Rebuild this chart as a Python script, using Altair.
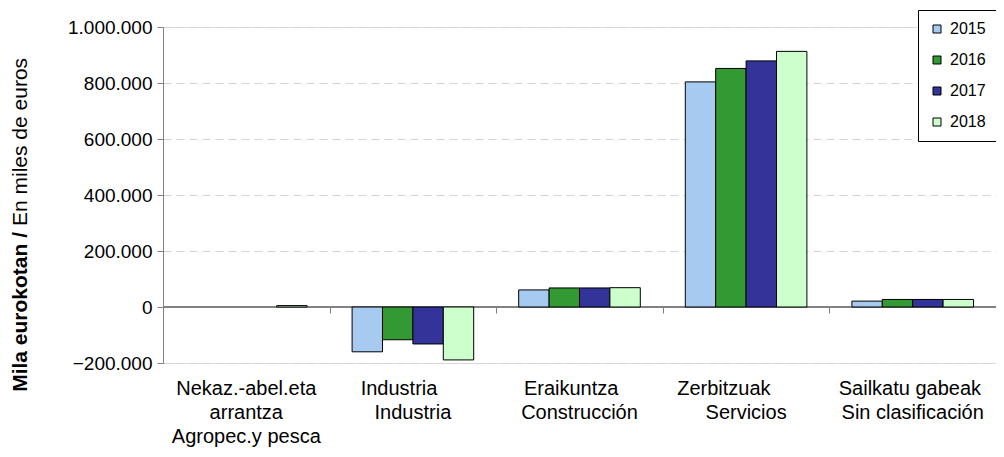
import altair as alt
import pandas as pd

NB = "\u00a0"
ZW = "\u200b"
categories = [
    "Nekaz.-abel.eta|arrantza|Agropec.y pesca",
    "Industria" + NB * 5 + ZW + "|Industria",
    "Eraikuntza" + NB * 3 + ZW + "|Construcción",
    "Zerbitzuak" + NB * 8 + ZW + "|Servicios",
    "Sailkatu gabeak" + NB + ZW + "|Sin clasificación",
]
years = ["2015", "2016", "2017", "2018"]
colors = ["#A6CAF0", "#339933", "#333399", "#CCFFCC"]

v2015 = [None, -160000, 61000, 804000, 21000]
v2016 = [None, -117000, 68000, 852000, 27000]
v2017 = [None, -132000, 68000, 879000, 27000]
v2018 = [5000, -189000, 69000, 913000, 27000]
y_ticks = [-200000, 0, 200000, 400000, 600000, 800000, 1000000]

series = {"2015": v2015, "2016": v2016, "2017": v2017, "2018": v2018}
rows = []
for y in years:
    for c, v in zip(categories, series[y]):
        if v is not None:
            rows.append({"cat": c, "year": y, "value": v})
df = pd.DataFrame(rows)
cat_df = pd.DataFrame({"cat": categories})

FONT = "Liberation Sans"
W, H = 833, 336
PAD_L, PAD_T = 155, 19

yscale = alt.Scale(domain=[-200000, 1000000], nice=False, zero=False)
xscale = alt.Scale(domain=categories, paddingInner=0, paddingOuter=0)

bars = alt.Chart(df).mark_bar(stroke="black", strokeWidth=1).encode(
    x=alt.X("cat:N", sort=categories, scale=xscale, title=None,
            axis=alt.Axis(orient="bottom", domain=False, ticks=False, labelAngle=0,
                          labelExpr="split(datum.label, '|')", labelFont=FONT,
                          labelFontSize=20, labelLineHeight=24, labelPadding=15,
                          labelColor="black", labelBaseline="top", labelLimit=400)),
    xOffset=alt.XOffset("year:N", sort=years,
                        scale=alt.Scale(paddingOuter=0.74, paddingInner=0)),
    y=alt.Y("value:Q", scale=yscale, title=None,
            axis=alt.Axis(values=y_ticks, grid=True, gridColor="#d4d4d4",
                          gridDash=[8, 5], domainColor="#808080", tickColor="#808080",
                          tickSize=6, labelPadding=5, labelFont=FONT, labelFontSize=19,
                          labelColor="black",
                          labelExpr="replace(format(datum.value, ','), regexp(',', 'g'), '.')")),
    color=alt.Color("year:N", sort=years, scale=alt.Scale(domain=years, range=colors),
                    legend=alt.Legend(title=None, orient="none", legendX=755, legendY=-17,
                                      symbolType="square", symbolSize=64,
                                      symbolStrokeColor="black", symbolStrokeWidth=1,
                                      labelFont=FONT, labelFontSize=16, labelColor="black",
                                      labelOffset=5, rowPadding=15, padding=11,
                                      strokeColor="black", fillColor="white",
                                      cornerRadius=0)),
)

zero = alt.Chart(cat_df).mark_rule(color="#808080", strokeWidth=1).encode(
    y=alt.datum(0, scale=yscale),
)

tick_axis = alt.Chart(cat_df).mark_point(opacity=0).encode(
    x=alt.X("cat:N", sort=categories, scale=xscale, title=None,
            axis=alt.Axis(orient="bottom", offset=-56, labels=False, domain=True,
                          domainColor="#808080", ticks=True, tickColor="#808080",
                          tickSize=6, tickBand="extent", grid=False)),
    y=alt.datum(0, scale=yscale),
)

title_bold = alt.Chart(cat_df.head(1)).mark_text(
    text="Mila eurokotan /", font=FONT, fontSize=21, fontWeight="bold", angle=270,
    align="right", baseline="middle", color="black",
).encode(x=alt.value(-142), y=alt.value(205))

title_norm = alt.Chart(cat_df.head(1)).mark_text(
    text="En miles de euros", font=FONT, fontSize=21, angle=270,
    align="left", baseline="middle", color="black",
).encode(x=alt.value(-142), y=alt.value(199))

chart = alt.layer(zero, bars, tick_axis, title_bold, title_norm).resolve_axis(
    x="independent"
).properties(
    width=W, height=H,
    autosize=alt.AutoSizeParams(type="none"),
    padding={"left": PAD_L, "top": PAD_T, "right": 0, "bottom": 441 - PAD_T - H},
).configure_view(stroke=None).configure(background="white")

chart.save("out.html", embed_options={"renderer": "svg", "actions": False})
